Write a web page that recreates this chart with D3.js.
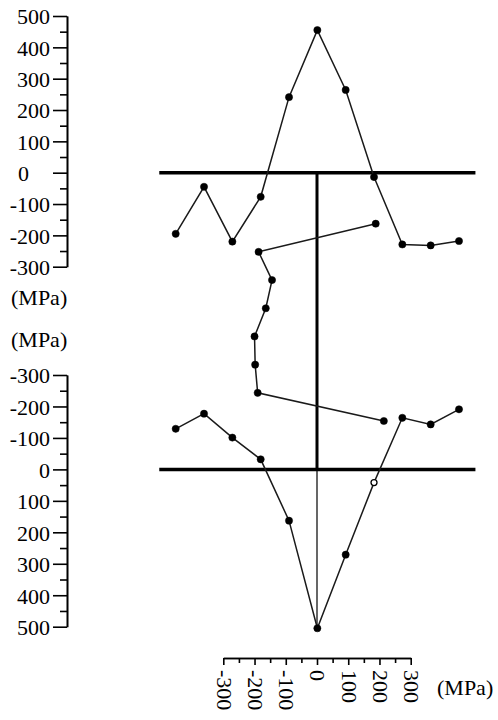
<!DOCTYPE html>
<html>
<head>
<meta charset="utf-8">
<script src="https://cdn.jsdelivr.net/npm/d3@7"></script>
<style>
  html, body { margin: 0; padding: 0; background: #fff; }
  text { font-family: "Liberation Serif", serif; }
</style>
</head>
<body>
<svg id="chart" width="498" height="720"></svg>
<script>
// Measuring stations along each flange (station index, centre = web)
const flangePos = [-5, -4, -3, -2, -1, 0, 1, 2, 3, 4, 5];
// Residual stress along the top flange (MPa)
const topFlangeStress = [-195, -45, -220, -77, 241, 455, 264, -14, -229, -232, -218];
// Residual stress along the bottom flange (MPa)
const bottomFlangeStress = [-129, -177, -101, -32, 163, 505, 271, 42, -164, -143, -191];
// Stations down the web, from top to bottom
const webPos = [0, 1, 2, 3, 4, 5, 6, 7];
// Residual stress across the web (MPa)
const webStress = [188, -187, -144, -164, -200, -198, -190, 214];
// Station drawn with an open marker on the bottom flange
const openMarkerIndex = 7;

// Axis ticks
const stressTicks = [-300, -200, -100, 0, 100, 200, 300, 400, 500];
const stressMinorTicks = [-250, -150, -50, 50, 150, 250, 350, 450];
const webAxisTicks = [-300, -200, -100, 0, 100, 200, 300];
const webAxisMinorTicks = [-250, -150, -50, 50, 150, 250];
const unitLabel = "(MPa)";

const FONT = "Liberation Serif";
const FONT_SIZE = 22;
// Plain hyphen-minus for negative tick values
const tickFmt = d => String(d);

const svg = d3.select("#chart");

// Scales
const xPos = d3.scaleLinear().domain([-5, 5]).range([175.7, 459]);
const flangeHalf = 5.58;
const yTop = d3.scaleLinear().domain([-300, 500]).range([266.7, 16]);
const yBot = d3.scaleLinear().domain([-300, 500]).range([375, 626.7]);
const xWeb = d3.scaleLinear().domain([-300, 300]).range([223.3, 410.7]);
const yWeb = d3.scaleLinear().domain([0, 7]).range([223.7, 421]);

const axisX = 67;

function setFont(sel) {
  sel.attr("font-family", FONT).attr("font-size", FONT_SIZE).attr("fill", "#000");
}

function styleAxis(g) {
  g.attr("font-family", FONT).attr("font-size", FONT_SIZE);
  g.select(".domain").attr("stroke", "#000").attr("stroke-width", 1.6);
  g.selectAll(".tick line").attr("stroke", "#000").attr("stroke-width", 1.6);
  g.selectAll(".tick text").call(setFont);
}

// Left stress axes (top flange, bottom flange)
function leftAxis(scale, zeroFlushLeft) {
  const g = svg.append("g").attr("transform", `translate(${axisX},0)`);
  g.append("g")
    .call(d3.axisLeft(scale).tickValues(stressMinorTicks).tickSize(7).tickSizeOuter(0).tickFormat(""))
    .call(styleAxis);
  const major = g.append("g")
    .call(d3.axisLeft(scale).tickValues(stressTicks).tickSize(14).tickSizeOuter(0).tickPadding(3).tickFormat(tickFmt))
    .call(styleAxis);
  major.selectAll(".tick text").attr("dy", "0.36em");
  if (zeroFlushLeft) {
    major.selectAll(".tick text").filter(d => d === 0)
      .attr("text-anchor", "start").attr("x", 18 - axisX);
  }
}
leftAxis(yTop, true);
leftAxis(yBot, false);

// Unit labels for the two left axes
svg.append("text").attr("x", 11).attr("y", 305).text(unitLabel).call(setFont);
svg.append("text").attr("x", 11).attr("y", 347).text(unitLabel).call(setFont);

// Bottom axis for web stress
const xAxisY = 658;
const gx = svg.append("g").attr("transform", `translate(0,${xAxisY})`);
gx.append("g")
  .call(d3.axisBottom(xWeb).tickValues(webAxisMinorTicks).tickSize(5).tickSizeOuter(0).tickFormat(""))
  .call(styleAxis);
const gxMajor = gx.append("g")
  .call(d3.axisBottom(xWeb).tickValues(webAxisTicks).tickSize(7).tickSizeOuter(0).tickFormat(tickFmt))
  .call(styleAxis);
gxMajor.selectAll(".tick text")
  .attr("transform", "rotate(90)")
  .attr("text-anchor", "start")
  .attr("x", 12)
  .attr("y", 0)
  .attr("dy", "0.32em");
svg.append("text").attr("x", 437).attr("y", 695).text(unitLabel).call(setFont);

// I-section outline: flanges and web
const topY = yTop(0), botY = yBot(0), webX = xWeb(0);
svg.append("line")
  .attr("x1", xPos(-flangeHalf)).attr("x2", xPos(flangeHalf))
  .attr("y1", topY).attr("y2", topY)
  .attr("stroke", "#000").attr("stroke-width", 3.5);
svg.append("line")
  .attr("x1", xPos(-flangeHalf)).attr("x2", xPos(flangeHalf))
  .attr("y1", botY).attr("y2", botY)
  .attr("stroke", "#000").attr("stroke-width", 3.5);
svg.append("line")
  .attr("x1", webX).attr("x2", webX)
  .attr("y1", topY).attr("y2", botY)
  .attr("stroke", "#000").attr("stroke-width", 3);
// Thin reference line under the bottom flange
svg.append("line")
  .attr("x1", webX).attr("x2", webX)
  .attr("y1", botY).attr("y2", yBot(500))
  .attr("stroke", "#000").attr("stroke-width", 1.2);

// Stress distributions
const lineStyle = sel => sel.attr("fill", "none").attr("stroke", "#1a1a1a").attr("stroke-width", 1.5);

const topData = flangePos.map((p, i) => ({ x: xPos(p), y: yTop(topFlangeStress[i]), open: false }));
const botData = flangePos.map((p, i) => ({ x: xPos(p), y: yBot(bottomFlangeStress[i]), open: i === openMarkerIndex }));
const webData = webPos.map((p, i) => ({ x: xWeb(webStress[i]), y: yWeb(p), open: false }));

const line = d3.line().x(d => d.x).y(d => d.y);

[topData, webData, botData].forEach(data => {
  svg.append("path").datum(data).attr("d", line).call(lineStyle);
  svg.append("g").selectAll("circle").data(data).join("circle")
    .attr("cx", d => d.x).attr("cy", d => d.y)
    .attr("r", d => d.open ? 3 : 3.6)
    .attr("fill", d => d.open ? "#fff" : "#000")
    .attr("stroke", "#000")
    .attr("stroke-width", d => d.open ? 1.3 : 0.5);
});
</script>
</body>
</html>
